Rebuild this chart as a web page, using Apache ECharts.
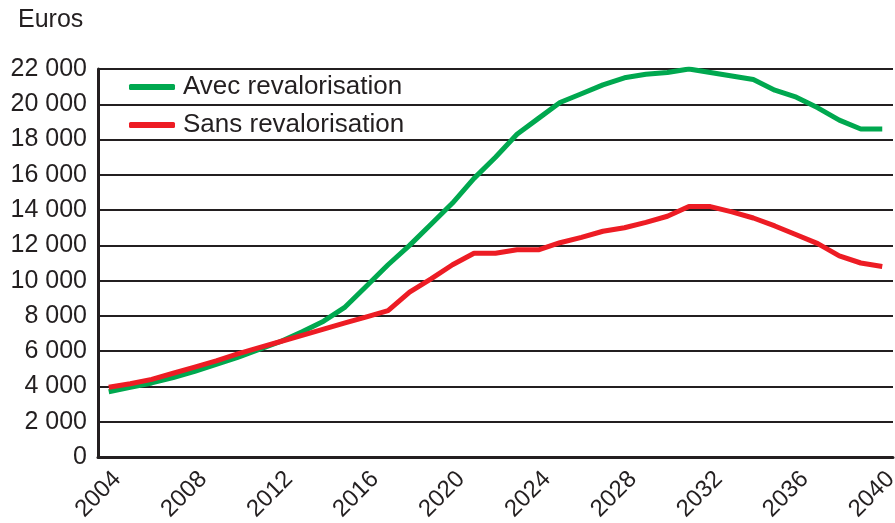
<!DOCTYPE html>
<html>
<head>
<meta charset="utf-8">
<script src="https://cdn.jsdelivr.net/npm/echarts@6/dist/echarts.min.js"></script>
<style>
  html, body { margin: 0; padding: 0; background: #fff; }
  #chart { width: 895px; height: 523px; }
</style>
</head>
<body>
<div id="chart"></div>
<script>
const years = [];
for (let y = 2004; y <= 2040; y++) years.push(String(y));

const avec = [3700, 3950, 4200, 4500, 4850, 5250, 5650, 6100, 6550, 7100, 7700, 8500, 9700, 10900, 12000, 13200, 14400,
    15800, 17000, 18300, 19200, 20100, 20600, 21100, 21500, 21700, 21800, 22000, 21800, 21600, 21400, 20800, 20400,
    19800, 19100, 18600, 18600];
const sans = [3950, 4150, 4400, 4750, 5100, 5450, 5850, 6200, 6550, 6900, 7250, 7600, 7950, 8300, 9350, 10100, 10900,
    11550, 11550, 11750, 11750, 12150, 12450, 12800, 13000, 13300, 13650, 14200, 14200, 13900, 13550, 13100, 12600,
    12100, 11400, 11000, 10800];

const ink = '#231f20';
const font = 'Liberation Sans';

echarts.init(document.getElementById('chart'))
    .setOption({
        animation: false,
        textStyle: {
            fontFamily: font,
            color: ink
        },
        grid: {
            left: 98,
            right: 2,
            top: 69,
            bottom: 66,
            outerBoundsMode: 'none'
        },
        graphic: [{
            type: 'text',
            left: 18,
            top: 8,
            style: {
                text: 'Euros',
                font: '25px "Liberation Sans"',
                fill: ink
            }
        }],
        legend: {
            orient: 'vertical',
            left: 124,
            top: 69,
            itemGap: 12,
            itemWidth: 46,
            itemHeight: 6,
            icon: 'roundRect',
            textStyle: {
                fontSize: 26,
                color: ink,
                padding: [0, 0, 0, 3]
            },
            data: ['Avec revalorisation', 'Sans revalorisation']
        },
        xAxis: {
            type: 'category',
            data: years,
            boundaryGap: true,
            axisLine: {
                lineStyle: { color: ink, width: 3 }
            },
            axisTick: {
                inside: true,
                alignWithLabel: true,
                interval: 0,
                length: 9,
                lineStyle: { color: ink, width: 2 }
            },
            axisLabel: {
                interval: 3,
                rotate: 45,
                fontSize: 24,
                color: ink,
                margin: 10,
                align: 'right',
                verticalAlign: 'top'
            }
        },
        yAxis: {
            type: 'value',
            min: 0,
            max: 22000,
            interval: 2000,
            axisLine: {
                show: true,
                lineStyle: { color: ink, width: 3 }
            },
            axisTick: { show: false },
            splitLine: {
                lineStyle: { color: ink, width: 2 }
            },
            axisLabel: {
                fontSize: 25,
                color: ink,
                margin: 11,
                formatter: v => String(v).replace(/\B(?=(\d{3})+(?!\d))/g, ' ')
            }
        },
        series: [{
            type: 'line',
            name: 'Avec revalorisation',
            data: avec,
            symbol: 'none',
            color: '#00a84f',
            lineStyle: { width: 5, color: '#00a84f' }
        }, {
            type: 'line',
            name: 'Sans revalorisation',
            data: sans,
            symbol: 'none',
            color: '#ed1c24',
            lineStyle: { width: 5, color: '#ed1c24' }
        }]
    });
</script>
</body>
</html>
